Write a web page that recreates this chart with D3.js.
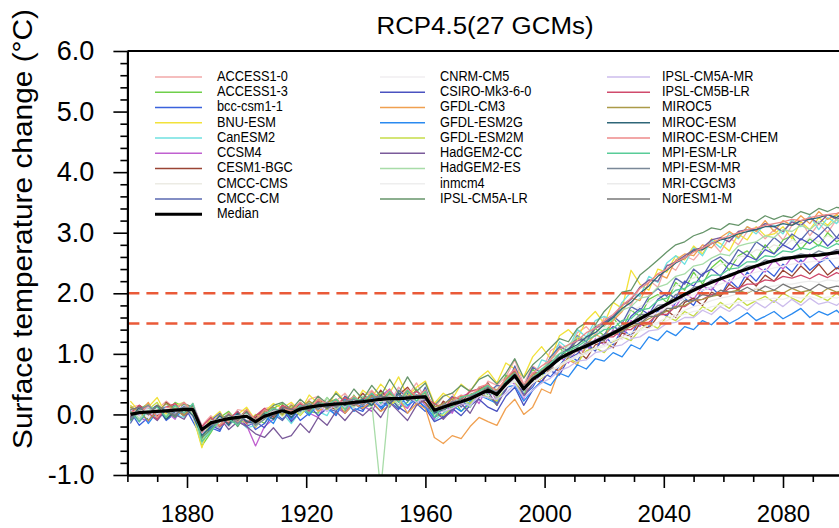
<!DOCTYPE html>
<html>
<head>
<meta charset="utf-8">
<script src="https://cdn.jsdelivr.net/npm/d3@7"></script>
<style>
  body { margin: 0; background: #fff; }
  svg { display: block; }
  text { font-family: "Liberation Sans", Arial, Helvetica, sans-serif; fill: #000; }
</style>
</head>
<body>
<script>
// years sampled every 3 years, last point 2100
var years = d3.range(1861, 2099, 3).concat([2100]);

var median = [
  0.00, 0.03, 0.04, 0.05, 0.06, 0.07, 0.08, 0.08, -0.25,
  -0.14, -0.10, -0.07, -0.05, -0.03, -0.12, -0.03, 0.02, 0.06,
  0.02, 0.09, 0.12, 0.14, 0.16, 0.17, 0.18, 0.20, 0.21,
  0.23, 0.25, 0.26, 0.26, 0.27, 0.28, 0.29, 0.07, 0.12,
  0.17, 0.21, 0.26, 0.33, 0.40, 0.33, 0.50, 0.64, 0.42,
  0.58, 0.68, 0.80, 0.92, 1.00, 1.07, 1.13, 1.20, 1.27,
  1.34, 1.42, 1.50, 1.58, 1.66, 1.74, 1.82, 1.90, 1.98,
  2.05, 2.12, 2.18, 2.24, 2.29, 2.35, 2.40, 2.45, 2.50,
  2.54, 2.57, 2.59, 2.61, 2.62, 2.63, 2.65, 2.67, 2.68
];

var access10 = [
  0.12, 0.15, -0.02, 0.08, 0.22, 0.10, -0.04, 0.14, -0.18,
  -0.02, -0.15, -0.12, 0.08, 0.05, -0.20, 0.10, 0.12, -0.02,
  0.18, 0.02, 0.25, 0.30, 0.08, 0.22, 0.35, 0.15, 0.28,
  0.40, 0.22, 0.18, 0.45, 0.30, 0.52, 0.25, 0.10, 0.30,
  0.35, 0.15, 0.42, 0.28, 0.55, 0.48, 0.62, 0.90, 0.50,
  0.80, 0.70, 1.05, 1.15, 1.02, 1.35, 1.45, 1.28, 1.60,
  1.55, 1.85, 1.80, 2.10, 2.22, 2.10, 2.48, 2.38, 2.62,
  2.55, 2.72, 2.85, 2.68, 2.92, 2.80, 3.02, 3.05, 2.90,
  3.05, 2.88, 3.12, 3.20, 2.95, 3.15, 3.00, 3.22, 3.10
];
var access13 = [
  -0.10, 0.08, 0.18, -0.05, 0.02, 0.20, 0.12, -0.02, -0.52,
  -0.30, -0.05, 0.05, -0.12, -0.18, -0.05, -0.15, 0.10, 0.18,
  -0.08, 0.20, 0.05, 0.02, 0.28, 0.10, 0.05, 0.32, 0.12,
  0.15, 0.38, 0.30, 0.10, 0.20, 0.42, 0.18, -0.05, 0.02,
  0.28, 0.05, 0.18, 0.45, 0.32, 0.15, 0.65, 0.55, 0.30,
  0.75, 0.60, 0.95, 1.10, 0.95, 1.28, 1.15, 1.42, 1.30,
  1.60, 1.40, 1.72, 1.62, 1.90, 1.98, 1.85, 2.18, 2.05,
  2.35, 2.15, 2.42, 2.55, 2.38, 2.62, 2.70, 2.55, 2.80,
  2.65, 2.88, 2.95, 2.72, 2.90, 2.78, 3.00, 2.85, 2.92
];
var bcc = [
  0.05, -0.18, -0.05, 0.12, -0.10, 0.02, 0.15, -0.12, -0.38,
  -0.22, -0.28, 0.02, -0.15, -0.02, -0.25, -0.15, 0.05, -0.08,
  0.10, -0.10, 0.02, 0.20, 0.12, -0.02, 0.25, 0.10, 0.05,
  0.30, 0.12, 0.22, 0.08, 0.35, 0.18, 0.05, 0.15, -0.05,
  0.05, 0.25, 0.12, 0.35, 0.28, 0.20, 0.40, 0.75, 0.32,
  0.45, 0.70, 0.62, 0.80, 1.00, 0.88, 1.12, 1.05, 1.30,
  1.15, 1.40, 1.30, 1.58, 1.45, 1.72, 1.62, 1.85, 1.92,
  1.80, 2.05, 2.10, 1.95, 2.22, 2.08, 2.35, 2.20, 2.40,
  2.28, 2.48, 2.35, 2.55, 2.38, 2.50, 2.58, 2.40, 2.52
];
var bnu = [
  0.22, 0.05, 0.12, 0.28, 0.00, 0.15, 0.20, -0.02, -0.55,
  -0.08, 0.05, -0.20, 0.00, 0.12, -0.10, 0.05, 0.18, 0.10,
  0.20, 0.05, 0.32, 0.18, 0.10, 0.38, 0.22, 0.15, 0.40,
  0.28, 0.50, 0.35, 0.62, 0.30, 0.45, 0.55, 0.18, 0.35,
  0.25, 0.50, 0.38, 0.60, 0.72, 0.52, 0.85, 0.75, 0.62,
  0.95, 1.12, 0.92, 1.30, 1.40, 1.25, 1.55, 1.70, 1.50,
  1.85, 1.75, 2.38, 2.15, 2.05, 2.40, 2.35, 2.62, 2.55,
  2.78, 2.65, 2.90, 2.82, 2.70, 2.98, 2.88, 3.10, 2.95,
  2.98, 3.10, 2.90, 3.18, 3.05, 3.25, 3.12, 3.30, 3.20
];
var canesm = [
  -0.12, 0.05, 0.10, -0.08, 0.18, 0.00, -0.05, 0.15, -0.42,
  -0.25, -0.15, 0.02, -0.08, -0.22, -0.18, 0.05, -0.10, 0.02,
  -0.15, 0.05, 0.18, 0.05, -0.02, 0.25, 0.12, 0.30, 0.08,
  0.20, 0.05, 0.35, 0.25, 0.12, 0.38, 0.30, -0.10, 0.02,
  0.12, 0.30, 0.20, 0.42, 0.30, 0.38, 0.48, 0.72, 0.38,
  0.58, 0.90, 0.85, 1.20, 1.08, 1.40, 1.28, 1.55, 1.62,
  1.55, 1.85, 2.02, 1.95, 2.28, 2.18, 2.50, 2.62, 2.48,
  2.75, 2.62, 2.88, 2.75, 3.00, 2.90, 3.10, 2.98, 3.15,
  3.12, 2.98, 3.22, 3.10, 3.28, 3.05, 3.25, 3.15, 3.30
];
var ccsm4 = [
  0.08, -0.05, -0.12, 0.12, 0.05, -0.08, 0.18, 0.02, -0.28,
  -0.15, -0.22, 0.02, -0.10, -0.18, -0.52, -0.20, -0.08, 0.12,
  -0.10, 0.15, 0.02, -0.05, 0.22, 0.12, 0.02, 0.28, 0.15,
  0.05, 0.30, 0.42, 0.20, 0.10, 0.32, 0.15, -0.08, 0.20,
  0.02, 0.30, 0.35, 0.18, 0.48, 0.22, 0.60, 0.50, 0.25,
  0.68, 0.55, 0.75, 0.95, 0.85, 1.10, 1.00, 1.25, 1.15,
  1.40, 1.25, 1.55, 1.45, 1.70, 1.62, 1.85, 1.78, 2.00,
  1.90, 2.12, 2.05, 2.25, 2.15, 2.38, 2.25, 2.45, 2.35,
  2.55, 2.40, 2.60, 2.48, 2.65, 2.52, 2.62, 2.70, 2.55
];
var cesm = [
  -0.05, 0.15, 0.05, -0.02, 0.20, 0.08, 0.00, 0.18, -0.22,
  -0.20, -0.05, -0.15, 0.02, -0.10, -0.05, 0.08, -0.05, 0.15,
  0.05, 0.18, 0.02, 0.25, 0.15, 0.08, 0.30, 0.18, 0.35,
  0.18, 0.40, 0.22, 0.32, 0.45, 0.25, 0.20, 0.00, 0.22,
  0.10, 0.20, 0.35, 0.30, 0.52, 0.25, 0.42, 0.68, 0.45,
  0.60, 0.52, 0.78, 0.72, 0.95, 1.05, 0.92, 1.15, 1.20,
  1.10, 1.35, 1.28, 1.50, 1.42, 1.62, 1.72, 1.60, 1.85,
  1.92, 1.80, 2.02, 1.95, 2.15, 2.05, 2.25, 2.12, 2.30,
  2.20, 2.38, 2.28, 2.45, 2.32, 2.48, 2.30, 2.42, 2.38
];
var cmccCms = [
  0.10, -0.05, 0.05, 0.15, -0.02, 0.12, 0.02, 0.18, -0.18,
  -0.10, -0.18, 0.00, -0.12, 0.05, -0.15, -0.02, 0.08, -0.05,
  0.12, 0.02, 0.20, 0.05, 0.22, 0.15, 0.28, 0.10, 0.25,
  0.32, 0.18, 0.35, 0.25, 0.30, 0.20, 0.38, 0.10, 0.15,
  0.25, 0.15, 0.35, 0.40, 0.30, 0.45, 0.52, 0.58, 0.50,
  0.70, 0.75, 0.90, 1.00, 1.12, 1.20, 1.18, 1.35, 1.42,
  1.50, 1.55, 1.70, 1.78, 1.85, 1.95, 2.00, 2.12, 2.20,
  2.25, 2.35, 2.38, 2.48, 2.50, 2.60, 2.62, 2.72, 2.70,
  2.80, 2.75, 2.88, 2.82, 2.92, 2.85, 2.95, 2.88, 2.92
];
var cmccCm = [
  -0.15, 0.10, 0.00, -0.08, 0.12, 0.15, -0.02, 0.05, -0.30,
  -0.10, 0.02, -0.18, -0.05, 0.05, -0.20, 0.08, 0.00, -0.10,
  0.08, 0.18, 0.00, 0.22, 0.10, 0.05, 0.30, 0.20, 0.12,
  0.35, 0.22, 0.12, 0.40, 0.28, 0.18, 0.45, 0.02, 0.15,
  0.30, 0.12, 0.28, 0.40, 0.35, 0.48, 0.45, 0.80, 0.45,
  0.78, 0.68, 0.95, 1.12, 1.05, 1.30, 1.20, 1.45, 1.52,
  1.62, 1.50, 1.78, 1.70, 1.95, 2.08, 1.95, 2.25, 2.15,
  2.40, 2.28, 2.52, 2.60, 2.48, 2.72, 2.62, 2.85, 2.75,
  2.92, 2.80, 2.98, 2.88, 3.05, 2.95, 3.10, 2.92, 3.05
];
var cnrm = [
  0.02, 0.12, -0.05, 0.10, 0.15, -0.02, 0.10, 0.05, -0.30,
  -0.12, -0.15, -0.02, -0.08, 0.02, -0.15, -0.05, 0.08, 0.10,
  0.05, 0.10, 0.18, 0.10, 0.22, 0.15, 0.22, 0.18, 0.25,
  0.20, 0.30, 0.28, 0.32, 0.22, 0.30, 0.35, 0.08, 0.15,
  0.18, 0.25, 0.22, 0.38, 0.42, 0.30, 0.52, 0.62, 0.45,
  0.55, 0.70, 0.75, 0.92, 0.95, 1.05, 1.10, 1.18, 1.22,
  1.32, 1.38, 1.48, 1.52, 1.62, 1.68, 1.78, 1.85, 1.92,
  1.98, 2.05, 2.10, 2.15, 2.20, 2.25, 2.30, 2.35, 2.38,
  2.42, 2.45, 2.48, 2.50, 2.52, 2.54, 2.56, 2.58, 2.58
];
var csiro = [
  0.08, -0.12, 0.05, 0.15, -0.08, 0.10, -0.02, 0.12, -0.40,
  -0.18, -0.25, -0.05, 0.02, -0.20, -0.12, -0.22, 0.02, 0.10,
  -0.12, 0.05, 0.15, -0.02, 0.10, 0.22, 0.02, 0.18, 0.08,
  0.20, 0.05, 0.28, 0.12, 0.02, 0.25, 0.10, -0.12, -0.05,
  0.10, -0.02, 0.15, 0.25, 0.12, 0.05, 0.30, 0.45, 0.15,
  0.40, 0.55, 0.72, 0.65, 0.92, 1.00, 1.18, 1.05, 1.32,
  1.45, 1.38, 1.62, 1.75, 1.65, 1.90, 2.00, 1.92, 2.20,
  2.12, 2.32, 2.40, 2.28, 2.50, 2.45, 2.62, 2.55, 2.72,
  2.65, 2.80, 2.72, 2.90, 2.82, 2.95, 2.78, 2.92, 2.88
];
var gfdlCm3 = [
  0.12, 0.02, 0.20, -0.05, 0.10, 0.18, 0.00, 0.10, -0.30,
  -0.05, -0.20, 0.02, -0.12, 0.08, -0.22, 0.02, -0.08, 0.15,
  -0.02, 0.12, 0.22, 0.05, 0.15, 0.25, 0.02, 0.18, 0.10,
  0.22, 0.05, 0.15, 0.28, 0.02, 0.18, 0.10, -0.38, -0.48,
  -0.35, -0.40, -0.20, -0.05, -0.12, -0.18, 0.10, 0.25, 0.00,
  0.12, 0.42, 0.35, 0.75, 0.90, 0.82, 1.15, 1.32, 1.25,
  1.55, 1.70, 1.92, 1.88, 2.18, 2.32, 2.25, 2.55, 2.65,
  2.62, 2.80, 2.75, 2.92, 3.02, 2.92, 3.10, 3.02, 3.20,
  3.02, 3.20, 3.12, 3.28, 3.15, 3.35, 3.22, 3.30, 3.38
];
var gfdlEsm2g = [
  -0.08, 0.10, -0.15, 0.05, 0.12, -0.05, 0.08, 0.15, -0.32,
  -0.22, -0.05, -0.18, 0.05, -0.12, -0.08, -0.02, -0.15, 0.12,
  -0.08, 0.12, -0.02, 0.18, 0.10, 0.00, 0.25, 0.05, 0.15,
  0.28, 0.10, 0.20, 0.32, 0.15, 0.25, 0.12, -0.05, 0.10,
  0.15, 0.05, 0.22, 0.32, 0.25, 0.18, 0.45, 0.48, 0.22,
  0.40, 0.55, 0.48, 0.68, 0.62, 0.82, 0.75, 0.92, 0.88,
  1.02, 0.95, 1.15, 1.08, 1.28, 1.22, 1.38, 1.30, 1.45,
  1.40, 1.55, 1.48, 1.62, 1.50, 1.58, 1.68, 1.55, 1.62,
  1.70, 1.58, 1.66, 1.75, 1.60, 1.70, 1.64, 1.72, 1.62
];
var gfdlEsm2m = [
  0.15, 0.02, 0.08, 0.20, -0.05, 0.10, 0.18, 0.05, -0.45,
  -0.05, -0.18, 0.02, -0.08, -0.15, 0.00, -0.05, 0.12, -0.02,
  0.12, -0.02, 0.15, 0.25, 0.08, 0.22, 0.10, 0.30, 0.18,
  0.30, 0.35, 0.15, 0.25, 0.38, 0.20, 0.32, 0.02, -0.02,
  0.12, 0.25, 0.18, 0.35, 0.28, 0.22, 0.48, 0.55, 0.30,
  0.52, 0.60, 0.72, 0.80, 0.92, 0.85, 1.05, 1.10, 1.02,
  1.20, 1.28, 1.22, 1.40, 1.50, 1.42, 1.62, 1.55, 1.70,
  1.62, 1.78, 1.70, 1.85, 1.75, 1.92, 1.80, 1.88, 1.95,
  1.85, 2.00, 1.92, 1.85, 2.02, 1.95, 1.88, 2.00, 1.92
];
var hadCc = [
  -0.05, 0.12, 0.02, -0.10, 0.08, 0.00, -0.08, 0.15, -0.20,
  -0.15, -0.05, -0.25, -0.12, -0.20, -0.32, -0.38, -0.22, -0.40,
  -0.35, -0.15, -0.30, -0.05, -0.18, 0.05, -0.10, 0.08, -0.02,
  0.12, -0.05, 0.20, 0.05, -0.10, 0.15, 0.25, 0.08, -0.08,
  0.08, 0.18, 0.02, 0.28, 0.38, 0.15, 0.42, 0.62, 0.30,
  0.50, 0.68, 0.78, 1.00, 1.08, 1.22, 1.25, 1.42, 1.50,
  1.62, 1.80, 1.90, 2.10, 2.22, 2.20, 2.45, 2.52, 2.62,
  2.72, 2.75, 2.88, 2.92, 2.85, 3.02, 3.05, 3.05, 3.15,
  3.10, 3.02, 3.18, 3.12, 3.25, 3.15, 3.30, 3.22, 3.28
];
var hadEs = [
  0.10, -0.08, 0.15, 0.05, -0.02, 0.12, 0.20, 0.00, -0.48,
  -0.10, -0.22, -0.02, -0.15, 0.05, -0.20, -0.08, 0.08, 0.00,
  0.15, 0.02, 0.20, 0.10, 0.28, 0.08, 0.22, 0.12, 0.30,
  0.18, -1.25, 0.32, 0.15, 0.38, 0.25, 0.40, 0.00, 0.12,
  0.22, 0.28, 0.12, 0.40, 0.50, 0.25, 0.55, 0.65, 0.38,
  0.65, 0.72, 0.92, 1.00, 1.15, 1.28, 1.25, 1.48, 1.45,
  1.60, 1.72, 1.78, 1.92, 1.95, 2.10, 2.15, 2.28, 2.32,
  2.45, 2.48, 2.58, 2.65, 2.62, 2.78, 2.82, 2.85, 2.95,
  2.92, 3.05, 3.02, 3.12, 3.05, 3.18, 3.10, 3.22, 3.15
];
var inmcm4 = [
  0.02, 0.08, -0.05, 0.10, 0.05, 0.00, 0.12, 0.05, -0.20,
  -0.15, -0.05, -0.10, 0.00, -0.08, -0.10, 0.00, 0.05, 0.08,
  0.02, 0.12, 0.10, 0.15, 0.12, 0.18, 0.15, 0.22, 0.18,
  0.25, 0.22, 0.28, 0.25, 0.30, 0.25, 0.28, 0.10, 0.12,
  0.18, 0.22, 0.25, 0.30, 0.38, 0.30, 0.45, 0.55, 0.40,
  0.52, 0.62, 0.70, 0.80, 0.88, 0.95, 1.00, 1.08, 1.12,
  1.18, 1.25, 1.30, 1.38, 1.42, 1.50, 1.55, 1.62, 1.65,
  1.70, 1.72, 1.78, 1.80, 1.82, 1.85, 1.88, 1.88, 1.90,
  1.92, 1.90, 1.95, 1.92, 1.95, 1.90, 1.94, 1.92, 1.95
];
var ipslALr = [
  -0.10, 0.08, 0.00, 0.15, 0.05, -0.05, 0.18, 0.12, -0.38,
  -0.25, -0.08, 0.00, -0.20, 0.02, -0.08, 0.00, 0.15, 0.20,
  0.08, 0.25, 0.12, 0.30, 0.18, 0.35, 0.20, 0.42, 0.25,
  0.48, 0.30, 0.58, 0.35, 0.62, 0.38, 0.52, 0.15, 0.30,
  0.35, 0.48, 0.38, 0.58, 0.65, 0.50, 0.68, 0.92, 0.60,
  0.82, 0.95, 1.10, 1.25, 1.20, 1.42, 1.52, 1.48, 1.70,
  1.85, 2.02, 2.05, 2.30, 2.42, 2.55, 2.68, 2.80, 2.85,
  2.95, 3.00, 3.08, 3.05, 3.15, 3.12, 3.22, 3.18, 3.28,
  3.22, 3.28, 3.25, 3.35, 3.30, 3.40, 3.35, 3.42, 3.40
];
var ipslAMr = [
  0.08, -0.02, 0.12, 0.00, 0.10, 0.02, 0.15, -0.05, -0.32,
  -0.12, -0.05, -0.20, 0.00, -0.15, -0.15, -0.02, 0.02, 0.08,
  -0.02, 0.10, 0.05, 0.15, 0.05, 0.18, 0.12, 0.20, 0.15,
  0.25, 0.15, 0.28, 0.22, 0.30, 0.20, 0.28, 0.02, 0.05,
  0.10, 0.18, 0.15, 0.30, 0.28, 0.25, 0.35, 0.50, 0.28,
  0.40, 0.52, 0.60, 0.72, 0.78, 0.88, 0.90, 1.02, 1.05,
  1.12, 1.15, 1.25, 1.28, 1.38, 1.40, 1.50, 1.52, 1.60,
  1.60, 1.72, 1.65, 1.78, 1.70, 1.82, 1.72, 1.85, 1.76,
  1.88, 1.78, 1.90, 1.80, 1.92, 1.82, 1.86, 1.80, 1.88
];
var ipslBLr = [
  0.02, 0.15, 0.02, -0.08, 0.12, 0.18, 0.00, 0.10, -0.20,
  -0.05, -0.20, -0.08, 0.05, -0.15, -0.02, 0.10, -0.02, 0.15,
  0.08, 0.18, 0.05, 0.22, 0.12, 0.15, 0.28, 0.15, 0.25,
  0.32, 0.20, 0.35, 0.25, 0.28, 0.38, 0.28, 0.18, 0.08,
  0.28, 0.25, 0.38, 0.42, 0.50, 0.32, 0.58, 0.72, 0.48,
  0.68, 0.70, 0.88, 0.92, 1.02, 1.05, 1.15, 1.18, 1.28,
  1.28, 1.40, 1.40, 1.52, 1.52, 1.65, 1.65, 1.78, 1.78,
  1.88, 1.90, 1.98, 1.98, 2.08, 2.08, 2.15, 2.15, 2.22,
  2.20, 2.28, 2.25, 2.30, 2.24, 2.32, 2.26, 2.34, 2.30
];
var miroc5 = [
  0.12, 0.05, -0.10, 0.05, 0.18, 0.08, -0.02, 0.12, -0.25,
  -0.18, 0.00, -0.10, -0.08, 0.08, -0.12, 0.05, 0.12, 0.00,
  0.15, 0.08, 0.22, 0.12, 0.20, 0.25, 0.15, 0.28, 0.20,
  0.30, 0.22, 0.35, 0.22, 0.38, 0.30, 0.35, 0.12, 0.18,
  0.25, 0.30, 0.32, 0.40, 0.48, 0.40, 0.58, 0.70, 0.48,
  0.65, 0.72, 0.82, 0.95, 1.00, 1.08, 1.12, 1.20, 1.25,
  1.32, 1.38, 1.45, 1.50, 1.58, 1.65, 1.70, 1.78, 1.80,
  1.88, 1.90, 1.95, 1.98, 2.02, 2.05, 2.00, 2.08, 2.02,
  2.05, 2.00, 2.08, 2.02, 2.05, 1.98, 2.08, 2.02, 2.05
];
var mirocEsm = [
  -0.08, 0.12, 0.02, 0.15, -0.08, 0.05, 0.12, -0.02, -0.35,
  -0.20, -0.02, -0.18, 0.02, -0.12, -0.15, 0.02, -0.08, 0.12,
  -0.05, 0.12, 0.08, 0.18, 0.12, 0.22, 0.15, 0.20, 0.25,
  0.15, 0.32, 0.18, 0.35, 0.22, 0.32, 0.28, 0.02, 0.08,
  0.15, 0.20, 0.25, 0.32, 0.40, 0.30, 0.50, 0.65, 0.40,
  0.58, 0.70, 0.82, 0.95, 1.08, 1.15, 1.28, 1.35, 1.48,
  1.60, 1.75, 1.85, 2.00, 2.12, 2.28, 2.38, 2.50, 2.58,
  2.70, 2.72, 2.82, 2.88, 2.92, 2.98, 3.02, 3.05, 3.10,
  3.10, 3.15, 3.12, 3.20, 3.22, 3.25, 3.30, 3.25, 3.32
];
var mirocChem = [
  0.05, 0.02, 0.15, -0.05, 0.12, 0.08, 0.20, 0.05, -0.30,
  -0.12, -0.18, 0.02, -0.12, 0.08, -0.10, 0.08, 0.00, 0.12,
  0.05, 0.20, 0.08, 0.25, 0.18, 0.22, 0.20, 0.30, 0.18,
  0.38, 0.25, 0.40, 0.22, 0.42, 0.30, 0.40, 0.08, 0.12,
  0.22, 0.32, 0.28, 0.45, 0.50, 0.38, 0.60, 0.75, 0.48,
  0.68, 0.80, 0.90, 1.08, 1.15, 1.22, 1.35, 1.42, 1.55,
  1.65, 1.80, 1.92, 2.08, 2.18, 2.32, 2.40, 2.52, 2.58,
  2.68, 2.75, 2.82, 2.90, 2.95, 3.00, 3.05, 3.08, 3.12,
  3.15, 3.18, 3.22, 3.20, 3.25, 3.28, 3.30, 3.32, 3.35
];
var mpiLr = [
  0.05, -0.12, 0.08, 0.12, -0.05, 0.15, 0.02, 0.18, -0.45,
  -0.28, -0.10, -0.08, -0.18, 0.02, -0.15, 0.00, 0.10, 0.05,
  0.00, 0.15, 0.02, 0.20, 0.15, 0.25, 0.08, 0.28, 0.20,
  0.35, 0.18, 0.38, 0.20, 0.40, 0.22, 0.38, -0.05, 0.15,
  0.12, 0.28, 0.32, 0.38, 0.48, 0.32, 0.55, 0.68, 0.42,
  0.60, 0.75, 0.85, 1.00, 1.05, 1.12, 1.22, 1.30, 1.40,
  1.42, 1.55, 1.58, 1.72, 1.75, 1.88, 1.92, 2.05, 2.08,
  2.18, 2.20, 2.30, 2.30, 2.40, 2.42, 2.52, 2.52, 2.62,
  2.60, 2.70, 2.68, 2.75, 2.72, 2.80, 2.74, 2.82, 2.78
];
var mpiMr = [
  -0.08, 0.08, 0.15, 0.02, 0.10, 0.00, 0.12, 0.08, -0.25,
  -0.18, -0.12, 0.00, -0.15, -0.02, -0.18, -0.08, 0.08, 0.05,
  0.02, 0.12, 0.18, 0.08, 0.20, 0.12, 0.22, 0.25, 0.15,
  0.28, 0.30, 0.20, 0.32, 0.25, 0.32, 0.30, 0.08, 0.08,
  0.22, 0.20, 0.30, 0.35, 0.40, 0.38, 0.48, 0.68, 0.40,
  0.62, 0.68, 0.80, 0.90, 1.02, 1.08, 1.18, 1.22, 1.32,
  1.35, 1.48, 1.50, 1.65, 1.65, 1.80, 1.82, 1.98, 1.98,
  2.10, 2.12, 2.22, 2.22, 2.32, 2.35, 2.45, 2.45, 2.55,
  2.52, 2.60, 2.60, 2.65, 2.62, 2.70, 2.65, 2.72, 2.70
];
var mri = [
  0.00, 0.05, 0.08, 0.02, 0.10, 0.05, 0.08, 0.10, -0.25,
  -0.12, -0.08, -0.05, -0.02, 0.00, -0.10, -0.02, 0.05, 0.05,
  0.02, 0.08, 0.12, 0.12, 0.15, 0.15, 0.18, 0.18, 0.20,
  0.22, 0.22, 0.25, 0.25, 0.25, 0.28, 0.28, 0.08, 0.10,
  0.15, 0.20, 0.25, 0.30, 0.38, 0.30, 0.45, 0.58, 0.40,
  0.52, 0.62, 0.72, 0.82, 0.90, 0.98, 1.02, 1.10, 1.15,
  1.22, 1.28, 1.35, 1.40, 1.48, 1.52, 1.60, 1.65, 1.72,
  1.78, 1.82, 1.88, 1.92, 1.95, 2.00, 2.02, 2.08, 2.10,
  2.12, 2.15, 2.15, 2.18, 2.20, 2.18, 2.22, 2.20, 2.22
];
var noresm = [
  0.08, 0.12, 0.00, 0.15, 0.05, -0.02, 0.12, 0.10, -0.28,
  -0.12, -0.12, 0.00, -0.10, 0.05, -0.15, 0.00, -0.02, 0.12,
  0.08, 0.10, 0.08, 0.20, 0.10, 0.18, 0.20, 0.15, 0.22,
  0.22, 0.30, 0.28, 0.25, 0.30, 0.28, 0.32, 0.08, 0.15,
  0.18, 0.25, 0.25, 0.35, 0.45, 0.30, 0.52, 0.62, 0.48,
  0.55, 0.72, 0.75, 0.95, 0.95, 1.10, 1.10, 1.22, 1.22,
  1.38, 1.35, 1.50, 1.50, 1.62, 1.62, 1.75, 1.75, 1.88,
  1.88, 1.98, 1.95, 2.05, 2.02, 2.02, 2.10, 2.02, 2.12,
  2.05, 2.15, 2.08, 2.12, 2.05, 2.15, 2.08, 2.12, 2.10
];

var modelNames = [
  "ACCESS1-0", "ACCESS1-3", "bcc-csm1-1", "BNU-ESM", "CanESM2", "CCSM4", "CESM1-BGC", "CMCC-CMS", "CMCC-CM",
  "CNRM-CM5", "CSIRO-Mk3-6-0", "GFDL-CM3", "GFDL-ESM2G", "GFDL-ESM2M", "HadGEM2-CC", "HadGEM2-ES", "inmcm4", "IPSL-CM5A-LR",
  "IPSL-CM5A-MR", "IPSL-CM5B-LR", "MIROC5", "MIROC-ESM", "MIROC-ESM-CHEM", "MPI-ESM-LR", "MPI-ESM-MR", "MRI-CGCM3", "NorESM1-M"
];
var modelColors = [
  "#f2a9a9", "#6fcf4a", "#3a62dc", "#f2e23a", "#6fe0e0", "#c060d0", "#9a4434", "#ecebe4", "#5a68b0",
  "#f1eef1", "#4a52c0", "#f0a050", "#2a8af0", "#c6dc48", "#7a5a9a", "#a8dca8", "#eeeeee", "#66956a",
  "#ccbcec", "#d04a6c", "#ab9a48", "#2e6678", "#ee8a8a", "#58cc98", "#7a8898", "#ebebeb", "#777777"
];
var modelSeries = [
  access10, access13, bcc, bnu, canesm, ccsm4, cesm, cmccCms, cmccCm,
  cnrm, csiro, gfdlCm3, gfdlEsm2g, gfdlEsm2m, hadCc, hadEs, inmcm4, ipslALr,
  ipslAMr, ipslBLr, miroc5, mirocEsm, mirocChem, mpiLr, mpiMr, mri, noresm
];

var refLevels = [2.0, 1.5];
var yMajor = [-1, 0, 1, 2, 3, 4, 5, 6];
var xMajor = [1880, 1920, 1960, 2000, 2040, 2080];

var width = 839, height = 528;
// plot box ("top" is taken by window, so other names)
var plotL = 127.4, plotR = 842.6, plotT = 51, plotB = 475;

var svg = d3.select("body").append("svg")
    .attr("width", width).attr("height", height);

var x = d3.scaleLinear().domain([1860, 2100]).range([plotL, plotR]);
var y = d3.scaleLinear().domain([-1, 6]).range([plotB, plotT]);

svg.append("clipPath").attr("id", "plotclip")
  .append("rect")
    .attr("x", plotL).attr("y", plotT)
    .attr("width", plotR - plotL).attr("height", plotB - plotT);

// title
svg.append("text")
    .attr("x", 485).attr("y", 34)
    .attr("text-anchor", "middle")
    .attr("font-size", 23.5)
    .attr("textLength", 217).attr("lengthAdjust", "spacingAndGlyphs")
    .text("RCP4.5(27 GCMs)");

// y axis label
svg.append("text")
    .attr("transform", "translate(32,229) rotate(-90)")
    .attr("text-anchor", "middle")
    .attr("font-size", 28)
    .attr("textLength", 440).attr("lengthAdjust", "spacingAndGlyphs")
    .text("Surface temperature change (\u00B0C)");

var plot = svg.append("g").attr("clip-path", "url(#plotclip)");

var line = d3.line()
    .x(function(d, i) { return x(years[i]); })
    .y(function(d) { return y(d); });

plot.selectAll(".model")
    .data(modelSeries)
  .enter().append("path")
    .attr("class", "model")
    .attr("d", line)
    .attr("fill", "none")
    .attr("stroke", function(d, i) { return modelColors[i]; })
    .attr("stroke-width", 1.3)
    .attr("stroke-linejoin", "round");

plot.selectAll(".ref")
    .data(refLevels)
  .enter().append("line")
    .attr("class", "ref")
    .attr("x1", plotL).attr("x2", plotR)
    .attr("y1", function(d) { return y(d); })
    .attr("y2", function(d) { return y(d); })
    .attr("stroke", "#ea5a38")
    .attr("stroke-width", 2.6)
    .attr("stroke-dasharray", "12,7");

plot.append("path")
    .datum(median)
    .attr("d", line)
    .attr("fill", "none")
    .attr("stroke", "#000")
    .attr("stroke-width", 3.2)
    .attr("stroke-linejoin", "round");

// axes
var xMinor = d3.range(1860, 2101, 10).filter(function(v) { return xMajor.indexOf(v) < 0; });
var yMinor = d3.range(-1, 6.01, 0.2).filter(function(v) { return Math.abs(v - Math.round(v)) > 0.01; });

var xAxisG = svg.append("g").attr("transform", "translate(0," + plotB + ")");
xAxisG.append("g")
    .call(d3.axisBottom(x).tickValues(xMinor).tickSize(7).tickSizeOuter(0).tickFormat(""));
xAxisG.append("g").attr("class", "xmajor")
    .call(d3.axisBottom(x).tickValues(xMajor).tickSize(13).tickSizeOuter(0)
      .tickPadding(17).tickFormat(d3.format("d")));

var yAxisG = svg.append("g").attr("transform", "translate(" + plotL + ",0)");
yAxisG.append("g")
    .call(d3.axisLeft(y).tickValues(yMinor).tickSize(7).tickSizeOuter(0).tickFormat(""));
yAxisG.append("g").attr("class", "ymajor")
    .call(d3.axisLeft(y).tickValues(yMajor).tickSize(14).tickSizeOuter(0)
      .tickPadding(19).tickFormat(function(d) { return d3.format(".1f")(d).replace("\u2212", "-"); }));

svg.selectAll(".domain").attr("stroke", "#000").attr("stroke-width", 2);
svg.selectAll(".tick line").attr("stroke", "#000").attr("stroke-width", 1.6);
svg.selectAll(".tick text")
    .attr("font-family", "\"Liberation Sans\", Arial, sans-serif")
    .attr("fill", "#000");
svg.selectAll(".xmajor .tick text").attr("font-size", 24);
svg.selectAll(".ymajor .tick text").attr("font-size", 27);

// top border
svg.append("line")
    .attr("x1", plotL).attr("x2", plotR)
    .attr("y1", plotT).attr("y2", plotT)
    .attr("stroke", "#000").attr("stroke-width", 2);

// legend: three columns
var legendNames = modelNames.slice(0, 9).concat(["Median"], modelNames.slice(9));
var legendColors = modelColors.slice(0, 9).concat(["#000"], modelColors.slice(9));
var colX = [[155, 202, 217], [380, 425, 440], [607, 650, 662]];
var rowTop = 75.5, rowStep = 15.25;

var legend = svg.append("g");
legendNames.forEach(function(name, k) {
  var col = k < 10 ? 0 : (k < 19 ? 1 : 2);
  var row = k < 10 ? k : (k < 19 ? k - 10 : k - 19);
  var cy = rowTop + row * rowStep;
  legend.append("line")
      .attr("x1", colX[col][0]).attr("x2", colX[col][1])
      .attr("y1", cy + 1.5).attr("y2", cy + 1.5)
      .attr("stroke", legendColors[k])
      .attr("stroke-width", name === "Median" ? 3 : 1.5);
  legend.append("text")
      .attr("transform", "translate(" + colX[col][2] + "," + (cy + 5.3) + ") scale(0.88,1)")
      .attr("font-size", 14.5)
      .text(name);
});
</script>
</body>
</html>
